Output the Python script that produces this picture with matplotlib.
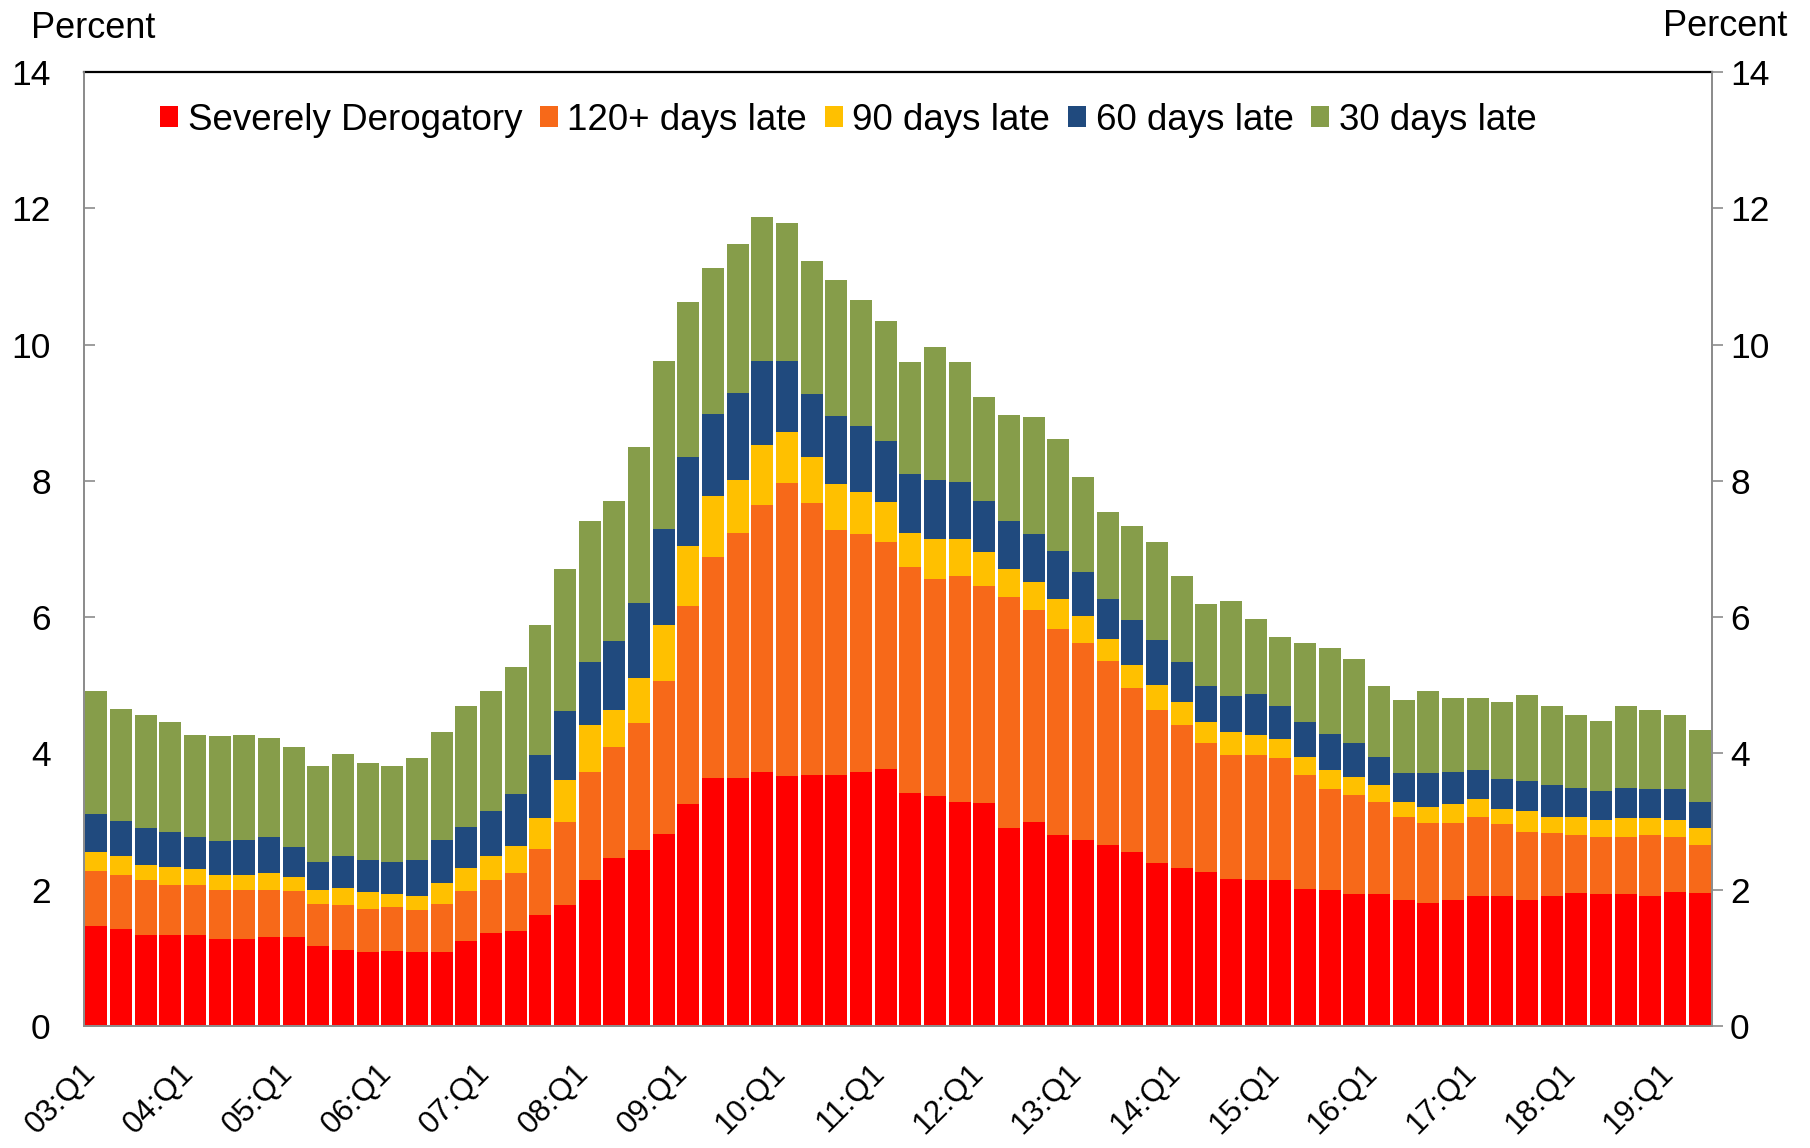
import matplotlib
matplotlib.use("Agg")
import matplotlib.pyplot as plt
import matplotlib.transforms as mtransforms
import numpy as np

plt.rcParams['font.family'] = ['Liberation Sans', 'DejaVu Sans']

# Quarters 03:Q1 .. 19:Q2
quarters = [f"{y:02d}:Q{q}" for y in range(3, 20) for q in range(1, 5)][:66]
tick_labels = ['03:Q1', '04:Q1', '05:Q1', '06:Q1', '07:Q1', '08:Q1', '09:Q1', '10:Q1', '11:Q1',
               '12:Q1', '13:Q1', '14:Q1', '15:Q1', '16:Q1', '17:Q1', '18:Q1', '19:Q1']

severe = [1.47, 1.42, 1.33, 1.34, 1.33, 1.28, 1.28, 1.31, 1.31, 1.17, 1.12, 1.08, 1.10, 1.08, 1.08, 1.25,
          1.37, 1.39, 1.63, 1.78, 2.14, 2.47, 2.59, 2.82, 3.26, 3.64, 3.64, 3.73, 3.67, 3.69, 3.69, 3.73,
          3.77, 3.42, 3.37, 3.29, 3.27, 2.91, 2.99, 2.80, 2.73, 2.65, 2.56, 2.39, 2.32, 2.26, 2.16, 2.14,
          2.14, 2.01, 2.00, 1.93, 1.93, 1.85, 1.81, 1.85, 1.91, 1.91, 1.85, 1.91, 1.95, 1.93, 1.93, 1.91,
          1.96, 1.95]
days120 = [0.81, 0.80, 0.81, 0.73, 0.74, 0.72, 0.72, 0.69, 0.67, 0.62, 0.66, 0.64, 0.64, 0.62, 0.71, 0.73,
           0.77, 0.85, 0.97, 1.22, 1.59, 1.62, 1.85, 2.25, 2.91, 3.24, 3.60, 3.92, 4.30, 3.98, 3.59, 3.49,
           3.34, 3.32, 3.19, 3.32, 3.18, 3.38, 3.11, 3.02, 2.89, 2.70, 2.40, 2.25, 2.10, 1.90, 1.82, 1.83,
           1.79, 1.68, 1.48, 1.46, 1.36, 1.22, 1.17, 1.13, 1.16, 1.05, 0.99, 0.92, 0.86, 0.84, 0.84, 0.90,
           0.81, 0.71]
days90 = [0.28, 0.27, 0.23, 0.27, 0.23, 0.21, 0.22, 0.25, 0.21, 0.21, 0.24, 0.24, 0.20, 0.21, 0.31, 0.34,
          0.35, 0.40, 0.45, 0.61, 0.68, 0.54, 0.66, 0.82, 0.88, 0.90, 0.77, 0.88, 0.74, 0.68, 0.68, 0.62,
          0.58, 0.49, 0.58, 0.53, 0.50, 0.42, 0.42, 0.44, 0.40, 0.33, 0.34, 0.36, 0.33, 0.30, 0.33, 0.30,
          0.28, 0.26, 0.28, 0.26, 0.25, 0.22, 0.24, 0.28, 0.26, 0.22, 0.31, 0.24, 0.26, 0.25, 0.28, 0.24,
          0.26, 0.24]
days60 = [0.55, 0.52, 0.53, 0.51, 0.47, 0.51, 0.51, 0.52, 0.43, 0.41, 0.47, 0.48, 0.46, 0.53, 0.63, 0.60,
          0.67, 0.77, 0.93, 1.01, 0.93, 1.02, 1.11, 1.41, 1.30, 1.20, 1.28, 1.23, 1.05, 0.92, 0.99, 0.97,
          0.90, 0.87, 0.87, 0.85, 0.75, 0.70, 0.70, 0.71, 0.64, 0.59, 0.66, 0.66, 0.59, 0.53, 0.54, 0.60,
          0.49, 0.51, 0.52, 0.51, 0.41, 0.42, 0.49, 0.47, 0.42, 0.45, 0.45, 0.47, 0.43, 0.43, 0.45, 0.43,
          0.45, 0.38]
days30 = [1.80, 1.64, 1.66, 1.61, 1.50, 1.53, 1.54, 1.46, 1.48, 1.41, 1.50, 1.42, 1.41, 1.49, 1.58, 1.77,
          1.75, 1.86, 1.91, 2.09, 2.07, 2.06, 2.28, 2.46, 2.28, 2.14, 2.19, 2.11, 2.02, 1.96, 2.00, 1.84,
          1.76, 1.64, 1.95, 1.75, 1.53, 1.55, 1.71, 1.64, 1.40, 1.28, 1.38, 1.44, 1.26, 1.21, 1.39, 1.11,
          1.01, 1.16, 1.27, 1.22, 1.04, 1.07, 1.20, 1.09, 1.07, 1.13, 1.26, 1.16, 1.07, 1.03, 1.20, 1.15,
          1.08, 1.07]

series_names = ['Severely Derogatory', '120+ days late', '90 days late', '60 days late', '30 days late']
series = [severe, days120, days90, days60, days30]
colors = ['#FF0000', '#F76919', '#FFC000', '#204A7E', '#869D4A']

W, H = 1810, 1148
fig = plt.figure(figsize=(W / 100, H / 100), dpi=100)
ax = fig.add_axes([84 / W, 1 - 1026 / H, 1628 / W, 954 / H])

x = np.arange(len(quarters))
bottom = np.zeros(len(quarters))
handles = []
for name, vals, c in zip(series_names, series, colors):
    v = np.array(vals)
    b = ax.bar(x, v, bottom=bottom, width=0.9, color=c, edgecolor='none', label=name, zorder=2)
    handles.append(b)
    bottom += v

ax.set_xlim(-0.5, len(quarters) - 0.5)
ax.set_ylim(0, 14)
ax.set_yticks(np.arange(0, 15, 2))

grey = '#8C8C8C'
for s in ['left', 'right', 'bottom']:
    ax.spines[s].set_color(grey)
    ax.spines[s].set_linewidth(1.3)
ax.spines['top'].set_color('black')
ax.spines['top'].set_linewidth(1.6)
ax.spines['top'].set_zorder(5)

ax.tick_params(axis='y', direction='in', length=8, width=1.2, color=grey, labelsize=25.5, pad=24)
tick_pos = [quarters.index(t) for t in tick_labels]
ax.set_xticks(tick_pos)
ax.set_xticklabels(tick_labels, rotation=45, ha='right', va='top')
ax.tick_params(axis='x', length=0, labelsize=22.5, pad=23)
offset = mtransforms.ScaledTranslation(5 / 100, 0, fig.dpi_scale_trans)
for lab in ax.get_xticklabels():
    lab.set_transform(lab.get_transform() + offset)

ax2 = ax.twinx()
ax2.set_ylim(0, 14)
ax2.set_yticks(np.arange(0, 15, 2))
ax2.tick_params(axis='y', direction='out', length=8, width=1.2, color=grey, labelsize=25.5, pad=5)
for s in ['left', 'right', 'bottom']:
    ax2.spines[s].set_color(grey)
    ax2.spines[s].set_linewidth(1.3)
ax2.spines['top'].set_visible(False)

fig.text(31 / W, 1 - 38 / H, 'Percent', ha='left', va='baseline', fontsize=26)
fig.text(1787 / W, 1 - 36 / H, 'Percent', ha='right', va='baseline', fontsize=26)

leg = ax.legend(handles=handles, labels=series_names, loc='center left',
                bbox_to_anchor=(160 / W, 1 - 120 / H), bbox_transform=fig.transFigure,
                ncol=5, frameon=False, fontsize=26.5, handlelength=0.5, handleheight=0.5,
                handletextpad=0.25, columnspacing=0.48, borderpad=0, borderaxespad=0)

fig.savefig('out.png', dpi=100)
